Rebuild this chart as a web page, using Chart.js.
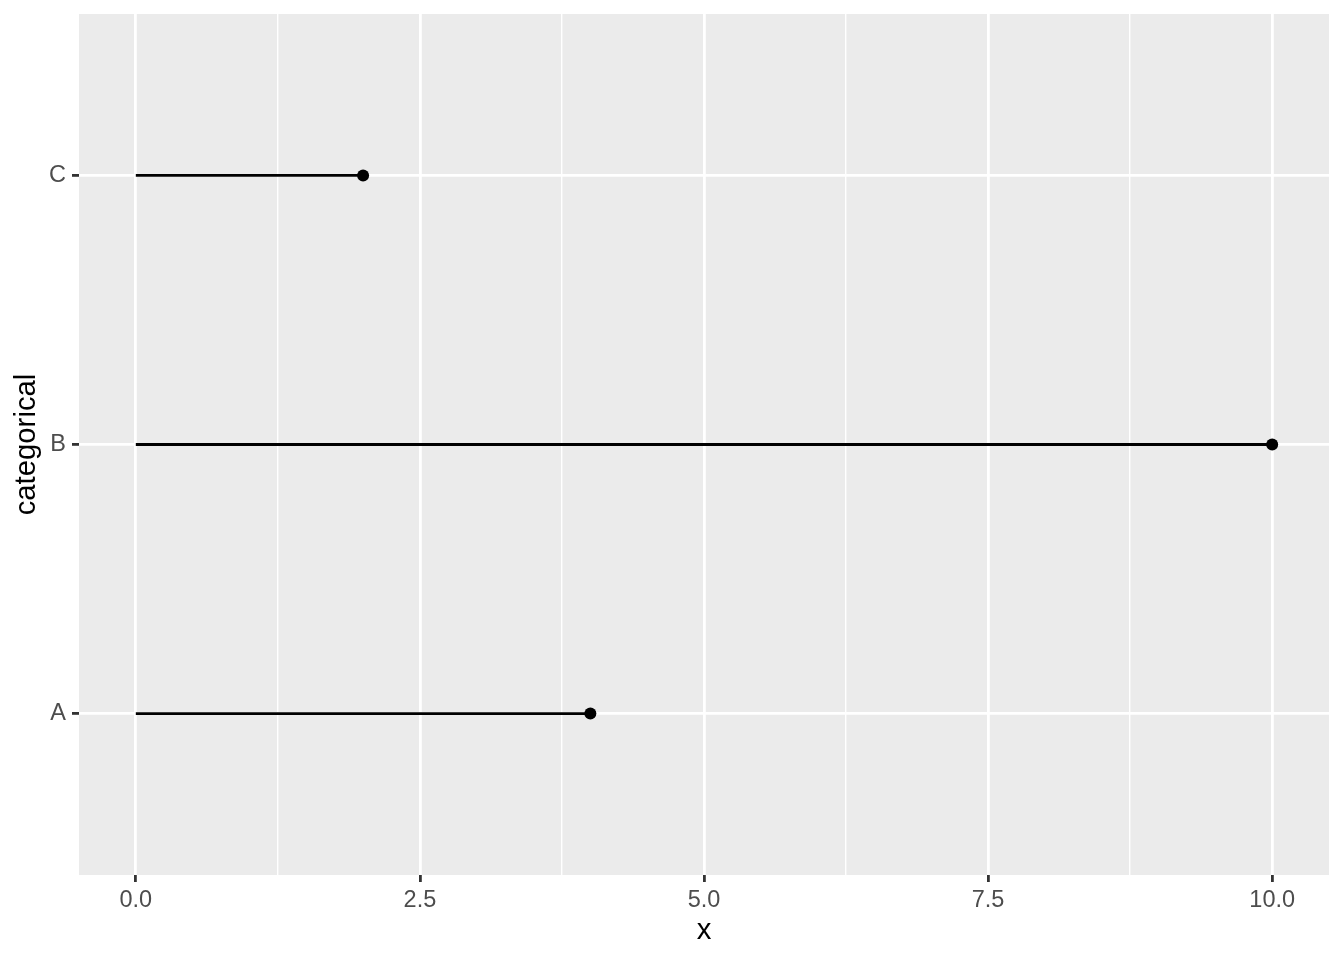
<!DOCTYPE html>
<html>
<head>
<meta charset="utf-8">
<script src="https://cdn.jsdelivr.net/npm/chart.js@4/dist/chart.umd.min.js"></script>
<style>
body { margin: 0; background: #fff; }
#wrap { width: 1344px; height: 960px; }
</style>
</head>
<body>
<div id="wrap"><canvas id="chart"></canvas></div>
<script>
var categories = ['A', 'B', 'C'];
var values = [4, 10, 2];
var xMajor = [0, 2.5, 5, 7.5, 10];
var xMinor = [1.25, 3.75, 6.25, 8.75];

var FONT = "'Liberation Sans', Arial, Helvetica, sans-serif";

function isMajor(v){
	return xMajor.indexOf(v) >= 0;
}

// panel background (ggplot grey)
var panelBg = {
	id: 'panelBg',
	beforeDraw: function(chart){
		var a = chart.chartArea;
		var c = chart.ctx;
		c.save();
		c.fillStyle = '#EBEBEB';
		c.fillRect(a.left, a.top, a.right - a.left, a.bottom - a.top);
		c.restore();
	}
};

var datasets = [];
for (var i = 0; i < categories.length; i++) {
	datasets.push({
		type: 'scatter',
		showLine: true,
		data: [{x: 0, y: i + 1}, {x: values[i], y: i + 1}],
		borderColor: '#000',
		borderWidth: 2.8,
		pointRadius: 0
	});
}
datasets.push({
	type: 'scatter',
	data: categories.map(function(c, i){ return {x: values[i], y: i + 1}; }),
	backgroundColor: '#000',
	borderColor: '#000',
	pointRadius: 6,
	borderWidth: 0
});

var ctx = document.getElementById('chart').getContext('2d');
var myChart = new Chart(ctx, {
	type: 'scatter',
	data: { datasets: datasets },
	plugins: [panelBg],
	options: {
		responsive: true,
		maintainAspectRatio: false,
		animation: false,
		layout: { padding: { top: 14, right: 15, left: 0, bottom: 0 } },
		plugins: { legend: { display: false }, tooltip: { enabled: false } },
		scales: {
			x: {
				type: 'linear',
				min: -0.5,
				max: 10.5,
				afterBuildTicks: function(scale){
					var all = xMajor.concat(xMinor).sort(function(a, b){ return a - b; });
					scale.ticks = all.map(function(v){ return {value: v}; });
				},
				afterFit: function(scale){ scale.height = 85; },
				border: { display: false },
				grid: {
					color: '#FFFFFF',
					lineWidth: function(c){ return isMajor(c.tick.value) ? 2.8 : 1.4; },
					drawTicks: true,
					tickLength: 7,
					tickWidth: 2.8,
					tickColor: function(c){ return isMajor(c.tick.value) ? '#333333' : 'rgba(0,0,0,0)'; }
				},
				ticks: {
					autoSkip: false,
					maxRotation: 0,
					padding: 4,
					color: '#4D4D4D',
					font: { family: FONT, size: 23.5 },
					callback: function(v){ return isMajor(v) ? v.toFixed(1) : ''; }
				},
				title: {
					display: true,
					text: 'x',
					color: '#000',
					font: { family: FONT, size: 29.3 },
					padding: { top: 12, bottom: 12 }
				}
			},
			y: {
				type: 'linear',
				min: 0.4,
				max: 3.6,
				afterBuildTicks: function(scale){
					scale.ticks = categories.map(function(c, i){ return {value: i + 1}; });
				},
				afterFit: function(scale){
					scale.width = 79;
					scale.paddingTop = 0;
					scale.paddingBottom = 0;
				},
				border: { display: false },
				grid: {
					color: '#FFFFFF',
					lineWidth: 2.8,
					drawTicks: true,
					tickLength: 7,
					tickWidth: 2.8,
					tickColor: '#333333'
				},
				ticks: {
					autoSkip: false,
					padding: 6,
					color: '#4D4D4D',
					font: { family: FONT, size: 23.5 },
					callback: function(v){ return categories[v - 1]; }
				},
				title: {
					display: true,
					text: 'categorical',
					color: '#000',
					font: { family: FONT, size: 29.3 },
					padding: { top: 9, bottom: 9 }
				}
			}
		}
	}
});
</script>
</body>
</html>
